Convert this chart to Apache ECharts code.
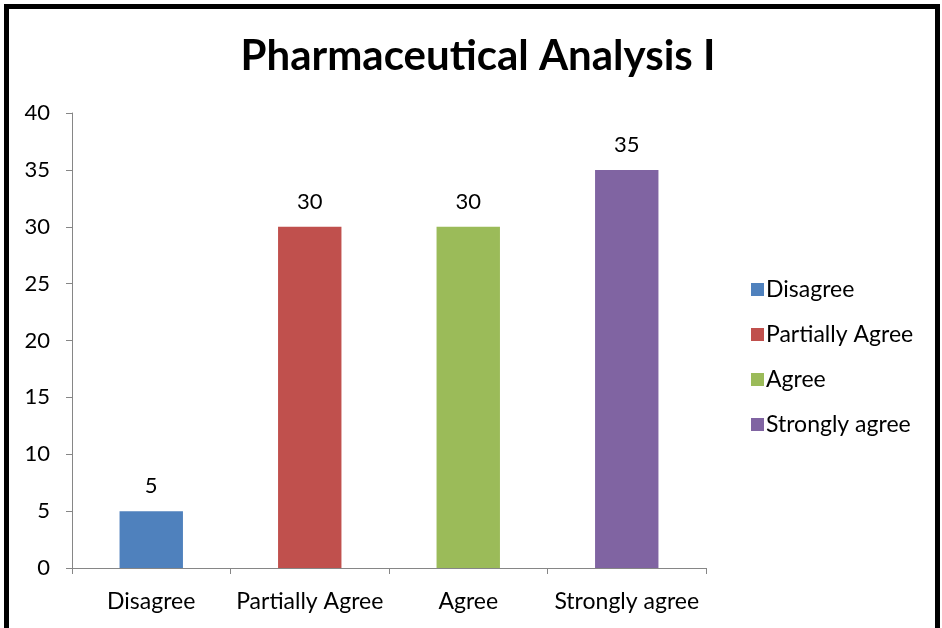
<!DOCTYPE html>
<html>
<head>
<meta charset="utf-8">
<script src="https://cdn.jsdelivr.net/npm/echarts@6/dist/echarts.min.js"></script>
<style>
html,body{margin:0;padding:0;background:#fff;}
#frame{position:absolute;left:4px;top:4px;width:926px;height:640px;border:5px solid #000;background:#fff;}
#main{position:absolute;left:-9px;top:-9px;width:942px;height:628px;}
</style>
</head>
<body>
<div id="frame"><div id="main"></div></div>
<script>
// 数据
var categories = ['Disagree', 'Partially Agree', 'Agree', 'Strongly agree'];
var values = [5, 30, 30, 35];
var colors = ['#4f81bd', '#c0504d', '#9bbb59', '#8064a2'];
var yTicks = { min: 0, max: 40, interval: 5 };

var font = 'Lato, "Open Sans", sans-serif';

// 每个类别一个系列，堆叠使柱子居中
var series = categories.map(function (name, i) {
    var d = categories.map(function (c, j) { return j === i ? values[i] : '-'; });
    return {
        name: name,
        type: 'bar',
        stack: 'all',
        barWidth: '40%',
        data: d,
        itemStyle: { color: colors[i] },
        label: {
            show: true,
            position: 'top',
            distance: 14,
            color: '#000',
            fontSize: 22,
            fontFamily: font
        }
    };
});

var chart = echarts.init(document.getElementById('main'));
chart.setOption({
    animation: false,
    title: {
        text: 'Pharmaceutical Analysis I',
        left: 473,
        top: 30,
        textAlign: 'center',
        textStyle: { fontSize: 42, fontWeight: 'bold', color: '#000', fontFamily: font }
    },
    legend: {
        orient: 'vertical',
        left: 746,
        top: 273,
        itemWidth: 13,
        itemHeight: 13,
        itemGap: 22,
        icon: 'rect',
        textStyle: { fontSize: 23, color: '#000', fontFamily: font, padding: [0, 0, 0, -3] },
        data: categories
    },
    grid: { left: 72, top: 113, width: 634, height: 455, containLabel: false },
    xAxis: {
        type: 'category',
        data: categories,
        axisLine: { lineStyle: { color: '#868686' } },
        axisTick: { show: true, length: 6, lineStyle: { color: '#868686' } },
        axisLabel: { color: '#000', fontSize: 23, margin: 22, interval: 0, fontFamily: font }
    },
    yAxis: {
        type: 'value',
        min: yTicks.min,
        max: yTicks.max,
        interval: yTicks.interval,
        axisLine: { show: true, lineStyle: { color: '#868686' } },
        axisTick: { show: true, length: 6, lineStyle: { color: '#868686' } },
        splitLine: { show: false },
        axisLabel: { color: '#000', fontSize: 22, margin: 22, fontFamily: font }
    },
    series: series
});
</script>
</body>
</html>
